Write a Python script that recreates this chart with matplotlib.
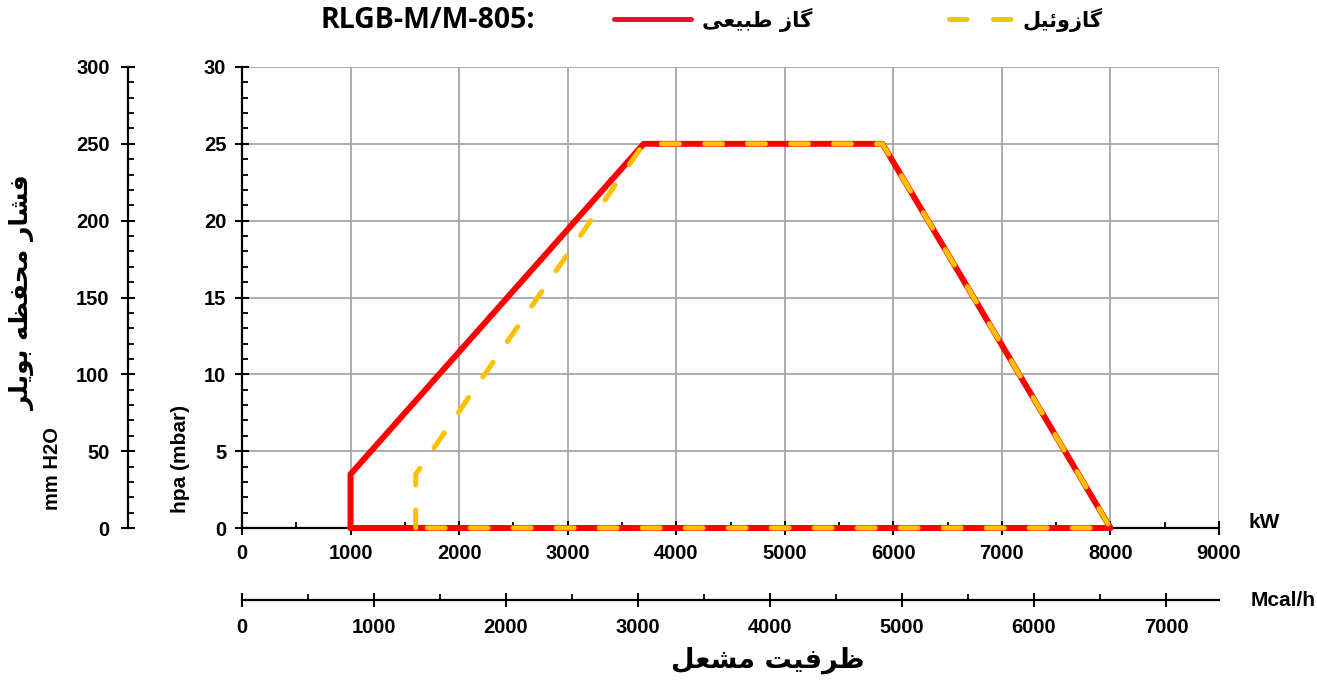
import matplotlib
matplotlib.use("Agg")
import matplotlib.pyplot as plt
from matplotlib.lines import Line2D
from matplotlib.ticker import MultipleLocator, FixedLocator

plt.rcParams['font.family'] = ['Liberation Sans', 'DejaVu Sans']
plt.rcParams['font.weight'] = 'bold'

# burner working ranges (kW, hPa)
gas_kw = [1000, 1000, 3700, 5900, 8000, 1000]
gas_hpa = [0, 3.5, 25, 25, 0, 0]
oil_kw = [1600, 1600, 1650, 3700, 5900, 8000, 1600]
oil_hpa = [0, 3.5, 4, 25, 25, 0, 0]

mm_ticks = [0, 50, 100, 150, 200, 250, 300]
mcal_ticks = [0, 1000, 2000, 3000, 4000, 5000, 6000, 7000]
mcal_minor = [500, 1500, 2500, 3500, 4500, 5500, 6500]

title = "RLGB-M/M-805:"
# persian labels, pre-shaped in visual order
gas_name = "\uFBFD\uFECC\uFBFF\uFE92\uFEC3 \uFEAF\uFE8E\uFB94"      # گاز طبیعی
oil_name = "\uFEDE\uFBFF\uFE8B\uFEED\uFEAF\uFE8E\uFB94"             # گازوئیل
ylab_fa = "\uFEAE\uFEE0\uFBFE\uFEEE\uFE91 \uFEEA\uFEC8\uFED4\uFEA4\uFEE3 \uFEAD\uFE8E\uFEB8\uFED3"  # فشار محفظه بویلر
xlab_fa = "\uFEDE\uFECC\uFEB8\uFEE3 \uFE96\uFBFF\uFED3\uFEAE\uFEC7"  # ظرفیت مشعل

RED = '#FF0000'
GOLD = '#FFC000'
W, H = 1317, 683
KW_PER_MCAL = 1.216
TICK_FS = 14.5

fig = plt.figure(figsize=(W / 100, H / 100), dpi=100)
ax = fig.add_axes([242 / W, 1 - 528 / H, 977 / W, 461 / H])
ax.set_xlim(0, 9000)
ax.set_ylim(0, 30)

ax.plot(gas_kw, gas_hpa, color=RED, lw=4.3, solid_joinstyle='round',
        solid_capstyle='round', zorder=3, clip_on=False)
ax.plot(oil_kw, oil_hpa, color=GOLD, lw=3.6, dashes=(3.6, 5),
        dash_capstyle='round', dash_joinstyle='round', zorder=4, clip_on=False)

ax.grid(True, which='major', color='#a6a6a6', lw=1.3)
ax.set_axisbelow(True)
for s in ['top', 'right']:
    ax.spines[s].set_visible(False)
for s in ['left', 'bottom']:
    ax.spines[s].set_linewidth(1.6)
    ax.spines[s].set_zorder(2.6)

ax.xaxis.set_major_locator(MultipleLocator(1000))
ax.xaxis.set_minor_locator(MultipleLocator(500))
ax.yaxis.set_major_locator(MultipleLocator(5))
ax.yaxis.set_minor_locator(MultipleLocator(1))
ax.tick_params(which='major', direction='inout', length=9.5, width=1.5, labelsize=TICK_FS)
ax.tick_params(which='minor', direction='in', length=4, width=1.3)
ax.tick_params(axis='x', which='major', pad=7)
ax.tick_params(axis='y', which='major', pad=6.5)

# mm H2O axis on the far left
sy = ax.secondary_yaxis((128 - 242) / 977, functions=(lambda y: y * 10, lambda y: y / 10))
sy.yaxis.set_major_locator(FixedLocator(mm_ticks))
sy.yaxis.set_minor_locator(FixedLocator(range(10, 300, 10)))
sy.tick_params(which='major', direction='inout', length=9.5, width=1.5, labelsize=TICK_FS, pad=8.5)
sy.tick_params(which='minor', direction='in', length=4, width=1.3)
for sp in sy.spines.values():
    sp.set_linewidth(1.6)

# Mcal/h axis below
sx = ax.secondary_xaxis((528 - 600) / 461,
                        functions=(lambda x: x / KW_PER_MCAL, lambda x: x * KW_PER_MCAL))
sx.xaxis.set_major_locator(FixedLocator(mcal_ticks))
sx.xaxis.set_minor_locator(FixedLocator(mcal_minor))
sx.tick_params(which='major', direction='inout', length=9.5, width=1.5, labelsize=TICK_FS, pad=8)
sx.tick_params(which='minor', direction='in', length=4, width=1.3)
for sp in sx.spines.values():
    sp.set_linewidth(1.6)

fa = ['DejaVu Sans']
fig.text(1264 / W, 1 - 522 / H, "kW", fontsize=15, ha='center', va='center')
fig.text(1251 / W, 1 - 600 / H, "Mcal/h", fontsize=15, ha='left', va='center')
fig.text(180 / W, 1 - 459 / H, "hpa (mbar)", fontsize=15, rotation=90, ha='center', va='center')
fig.text(52 / W, 1 - 468 / H, "mm H2O", fontsize=14.5, rotation=90, ha='center', va='center')
fig.text(22 / W, 1 - 293 / H, ylab_fa, fontsize=18, rotation=90, ha='center', va='center', family=fa)
fig.text(768 / W, 1 - 660 / H, xlab_fa, fontsize=19.5, ha='center', va='center', family=fa)

# title + legend row
fig.text(428 / W, 1 - 20 / H, title, fontsize=20.5, ha='center', va='center', family=['Open Sans'])
fig.add_artist(Line2D([614 / W, 691 / W], [1 - 19 / H] * 2, color='#EB1030', lw=3.6,
                      solid_capstyle='round', transform=fig.transFigure))
fig.text(757 / W, 1 - 20 / H, gas_name, fontsize=15.3, ha='center', va='center', family=fa)
fig.add_artist(Line2D([949 / W, 1011 / W], [1 - 19 / H] * 2, color='#E8C800', lw=3.6,
                      dashes=(3.5, 5.3), dash_capstyle='round', transform=fig.transFigure))
fig.text(1062 / W, 1 - 20 / H, oil_name, fontsize=15, ha='center', va='center', family=fa)

fig.savefig("out.png", dpi=100)
